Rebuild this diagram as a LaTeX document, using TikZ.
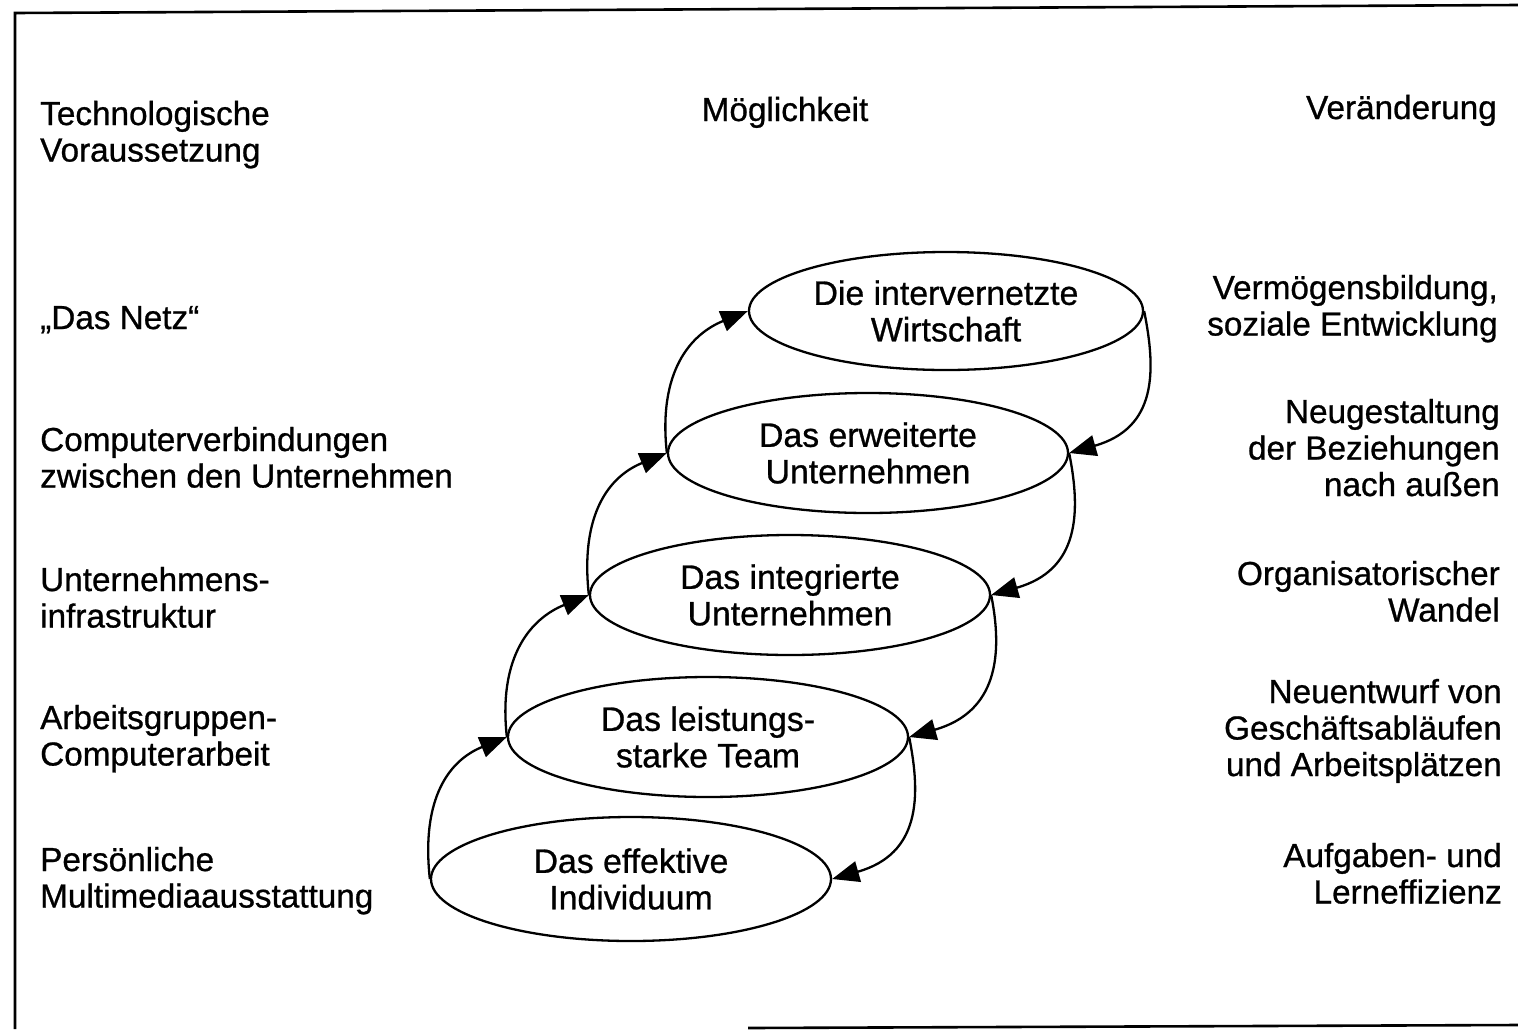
\documentclass[tikz,border=0pt]{standalone}
\usepackage{fontspec}
\setmainfont[FakeBold=0.8]{Liberation Sans}
\usetikzlibrary{shapes.geometric,arrows.meta}
\begin{document}
\begin{tikzpicture}[x=1pt,y=-1pt,
  txt/.style={font=\fontsize{33.3}{36.5}\selectfont, inner sep=0pt},
  lefttxt/.style={txt, align=left, anchor=base west},
  righttxt/.style={txt, align=right, anchor=base east},
  stage/.style={draw, line width=2.3pt, ellipse, inner sep=0pt,
    minimum width=400pt, minimum height=120pt, align=center,
    font=\fontsize{33.8}{36.5}\selectfont},
  frameline/.style={line width=2.6pt},
  arr/.style={line width=2.3pt, -{Triangle[length=27pt,width=21pt]}}]
\useasboundingbox (0,0) rectangle (1518,1029);
% frame
\coordinate (tl) at (15,13);
\coordinate (tr) at (1518,5);
\coordinate (bl) at (15,1029);
\coordinate (bm) at (748,1028);
\coordinate (br) at (1518,1025);
\draw[frameline] (bl) -- (tl) -- (tr);
\draw[frameline] (bm) -- (br);
% headers (anchor = baseline of last line)
\node[lefttxt] (h1) at (40,161.5) {Technologische\\Voraussetzung};
\node[txt, anchor=base] (h2) at (785,121) {Möglichkeit};
\node[righttxt] (h3) at (1497,119) {Veränderung};
% left column
\node[lefttxt] (l1) at (40,329) {„Das Netz“};
\node[lefttxt] (l2) at (40,487.5) {Computerverbindungen\\zwischen den Unternehmen};
\node[lefttxt] (l3) at (40,627.5) {Unternehmens-\\infrastruktur};
\node[lefttxt] (l4) at (40,765.5) {Arbeitsgruppen-\\Computerarbeit};
\node[lefttxt] (l5) at (40,907.5) {Persönliche\\Multimediaausstattung};
% right column
\node[righttxt] (r1) at (1498,335.5) {Vermögensbildung,\\soziale Entwicklung};
\node[righttxt] (r2) at (1500,496) {Neugestaltung\\der Beziehungen\\nach außen};
\node[righttxt] (r3) at (1500,621.5) {Organisatorischer\\Wandel};
\node[righttxt] (r4) at (1502,776) {Neuentwurf von\\Geschäftsabläufen\\und Arbeitsplätzen};
\node[righttxt] (r5) at (1502,903.5) {Aufgaben- und\\Lerneffizienz};
% stages
\node[stage, minimum width=394pt, minimum height=118pt] (e1) at (946,311) {Die intervernetzte\\Wirtschaft};
\node[stage] (e2) at (868,453) {Das erweiterte\\Unternehmen};
\node[stage] (e3) at (790,595) {Das integrierte\\Unternehmen};
\node[stage] (e4) at (708,737) {Das leistungs-\\starke Team};
\node[stage, minimum height=124pt] (e5) at (631,879) {Das effektive\\Individuum};
% upward arrows (left)
\foreach \lo/\hi in {e5/e4, e4/e3, e3/e2, e2/e1}
  \draw[arr] (\lo.west) .. controls +(-9,-82) and +(-57,23) .. (\hi.west);
% downward arrows (right)
\foreach \hi/\lo in {e1/e2, e2/e3, e3/e4, e4/e5}
  \draw[arr] (\hi.east) .. controls +(12,60) and +(88,-25) .. (\lo.east);
\end{tikzpicture}
\end{document}
